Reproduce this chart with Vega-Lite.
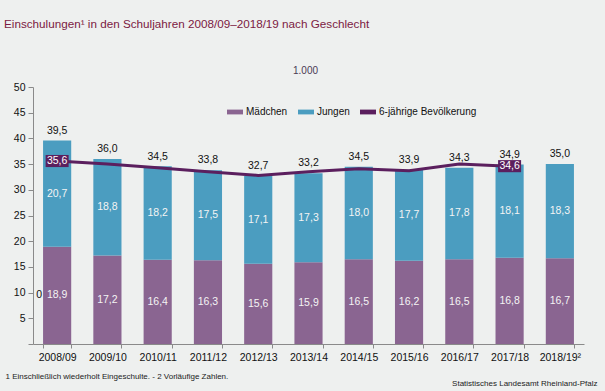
{
  "$schema": "https://vega.github.io/schema/vega-lite/v6.json",
  "width": 551,
  "height": 257,
  "autosize": {"type": "none"},
  "padding": {"left": 33, "top": 87, "right": 21, "bottom": 47},
  "background": "#eef0ef",
  "title": {
    "text": "Einschulungen¹ in den Schuljahren 2008/09–2018/19 nach Geschlecht",
    "anchor": "start",
    "frame": "group",
    "dx": -29,
    "offset": 34,
    "font": "Liberation Sans",
    "fontSize": 11.7,
    "fontWeight": "normal",
    "color": "#7c1a42"
  },
  "datasets": {
    "sex": [
      {"year": "2008/09", "sex": "Mädchen", "value": 18.9},
      {"year": "2008/09", "sex": "Jungen", "value": 20.7},
      {"year": "2009/10", "sex": "Mädchen", "value": 17.2},
      {"year": "2009/10", "sex": "Jungen", "value": 18.8},
      {"year": "2010/11", "sex": "Mädchen", "value": 16.4},
      {"year": "2010/11", "sex": "Jungen", "value": 18.2},
      {"year": "2011/12", "sex": "Mädchen", "value": 16.3},
      {"year": "2011/12", "sex": "Jungen", "value": 17.5},
      {"year": "2012/13", "sex": "Mädchen", "value": 15.6},
      {"year": "2012/13", "sex": "Jungen", "value": 17.1},
      {"year": "2013/14", "sex": "Mädchen", "value": 15.9},
      {"year": "2013/14", "sex": "Jungen", "value": 17.3},
      {"year": "2014/15", "sex": "Mädchen", "value": 16.5},
      {"year": "2014/15", "sex": "Jungen", "value": 18.0},
      {"year": "2015/16", "sex": "Mädchen", "value": 16.2},
      {"year": "2015/16", "sex": "Jungen", "value": 17.7},
      {"year": "2016/17", "sex": "Mädchen", "value": 16.5},
      {"year": "2016/17", "sex": "Jungen", "value": 17.8},
      {"year": "2017/18", "sex": "Mädchen", "value": 16.8},
      {"year": "2017/18", "sex": "Jungen", "value": 18.1},
      {"year": "2018/19²", "sex": "Mädchen", "value": 16.7},
      {"year": "2018/19²", "sex": "Jungen", "value": 18.3}
    ],
    "tot": [
      {"year": "2008/09", "total": 39.5},
      {"year": "2009/10", "total": 36.0},
      {"year": "2010/11", "total": 34.5},
      {"year": "2011/12", "total": 33.8},
      {"year": "2012/13", "total": 32.7},
      {"year": "2013/14", "total": 33.2},
      {"year": "2014/15", "total": 34.5},
      {"year": "2015/16", "total": 33.9},
      {"year": "2016/17", "total": 34.3},
      {"year": "2017/18", "total": 34.9},
      {"year": "2018/19²", "total": 35.0}
    ],
    "pop": [
      {"year": "2008/09", "pop": 35.6, "show": true},
      {"year": "2009/10", "pop": 35.0, "show": false},
      {"year": "2010/11", "pop": 34.3, "show": false},
      {"year": "2011/12", "pop": 33.5, "show": false},
      {"year": "2012/13", "pop": 32.8, "show": false},
      {"year": "2013/14", "pop": 33.5, "show": false},
      {"year": "2014/15", "pop": 34.1, "show": false},
      {"year": "2015/16", "pop": 33.7, "show": false},
      {"year": "2016/17", "pop": 35.0, "show": false},
      {"year": "2017/18", "pop": 34.6, "show": true}
    ]
  },
  "layer": [
    {
      "data": {"name": "sex"},
      "encoding": {
        "x": {
          "field": "year",
          "type": "nominal",
          "sort": null,
          "scale": {
            "domain": ["2008/09", "2009/10", "2010/11", "2011/12", "2012/13", "2013/14", "2014/15", "2015/16", "2016/17", "2017/18", "2018/19²"],
            "paddingInner": 0.44,
            "paddingOuter": 0.2
          },
          "axis": {
            "orient": "bottom",
            "labelAngle": 0,
            "tickBand": "extent",
            "tickSize": 4,
            "labelPadding": 4,
            "labelFontSize": 10.5,
            "labelColor": "#111111",
            "domainColor": "#8a8a8a",
            "tickColor": "#8a8a8a",
            "title": "1 Einschließlich wiederholt Eingeschulte. - 2 Vorläufige Zahlen.",
            "titleAnchor": "start",
            "titleAlign": "left",
            "titleBaseline": "middle",
            "titleX": -28,
            "titleY": 32,
            "titleFontSize": 8,
            "titleFontWeight": "normal",
            "titleColor": "#222222"
          }
        }
      },
      "layer": [
        {
          "mark": {"type": "bar"},
          "encoding": {
            "y": {
              "field": "value",
              "type": "quantitative",
              "stack": "zero",
              "title": "1.000",
              "scale": {"domain": [0, 50], "nice": false}
            },
            "color": {
              "field": "sex",
              "type": "nominal",
              "scale": {
                "domain": ["Mädchen", "Jungen", "6-jährige Bevölkerung"],
                "range": ["#8a6591", "#4b9dc0", "#5b1f5e"]
              },
              "legend": {
                "title": null,
                "orient": "none",
                "legendX": 194,
                "legendY": 17,
                "direction": "horizontal",
                "symbolType": "M-1,-0.3H1V0.3H-1Z",
                "symbolSize": 256,
                "symbolStrokeWidth": 0,
                "labelFontSize": 10,
                "labelColor": "#111111",
                "labelOffset": 3,
                "columnPadding": 10
              }
            },
            "order": {"field": "sex", "sort": "descending"}
          }
        },
        {
          "transform": [
            {"stack": "value", "groupby": ["year"], "sort": [{"field": "sex", "order": "descending"}], "as": ["v0", "v1"]},
            {"calculate": "(datum.v0 + datum.v1) / 2", "as": "mid"}
          ],
          "mark": {"type": "text", "color": "#f4f4f4", "fontSize": 10.5, "baseline": "middle"},
          "encoding": {
            "y": {"field": "mid", "type": "quantitative", "stack": null, "title": "1.000"},
            "text": {"field": "value", "type": "quantitative", "format": ".1f"}
          }
        },
        {
          "transform": [{"filter": "datum.year == '2008/09' && datum.sex == 'Mädchen'"}],
          "mark": {"type": "text", "color": "#111111", "fontSize": 10.5, "baseline": "middle", "dx": -18},
          "encoding": {
            "y": {"datum": 9.45, "type": "quantitative", "title": "1.000"},
            "text": {"value": "0"}
          }
        },
        {
          "data": {"name": "tot"},
          "mark": {"type": "text", "color": "#111111", "fontSize": 10.5, "baseline": "middle", "dy": -10},
          "encoding": {
            "y": {"field": "total", "type": "quantitative", "stack": null, "title": "1.000"},
            "text": {"field": "total", "type": "quantitative", "format": ".1f"}
          }
        }
      ]
    },
    {
      "data": {"name": "pop"},
      "encoding": {
        "x": {
          "field": "year",
          "type": "nominal",
          "sort": null,
          "scale": {
            "domain": ["2008/09", "2009/10", "2010/11", "2011/12", "2012/13", "2013/14", "2014/15", "2015/16", "2016/17", "2017/18", "2018/19²"],
            "paddingInner": 0.44,
            "paddingOuter": 0.2
          },
          "axis": {
            "orient": "top",
            "labels": false,
            "ticks": false,
            "domain": false,
            "grid": false,
            "title": "Statistisches Landesamt Rheinland-Pfalz",
            "titleAnchor": "end",
            "titleAlign": "right",
            "titleBaseline": "middle",
            "titleX": 564,
            "titleY": 296,
            "titleFontSize": 8,
            "titleFontWeight": "normal",
            "titleColor": "#222222"
          }
        },
        "y": {"field": "pop", "type": "quantitative", "stack": null, "title": "1.000"}
      },
      "layer": [
        {
          "mark": {"type": "line", "strokeWidth": 3},
          "encoding": {
            "color": {"datum": "6-jährige Bevölkerung", "type": "nominal"}
          }
        },
        {
          "transform": [{"filter": "datum.show"}],
          "mark": {"type": "point", "shape": "M-0.95,-0.5H0.95V0.5H-0.95Z", "filled": true, "size": 586, "opacity": 1, "color": "#5b1f5e"},
          "encoding": {}
        },
        {
          "transform": [{"filter": "datum.show"}],
          "mark": {"type": "text", "color": "#ffffff", "fontSize": 10.5, "baseline": "middle"},
          "encoding": {
            "text": {"field": "pop", "type": "quantitative", "format": ".1f"}
          }
        }
      ]
    }
  ],
  "resolve": {"axis": {"x": "independent"}},
  "config": {
    "font": "Liberation Sans",
    "view": {"stroke": null},
    "axisY": {
      "tickCount": 10,
      "labelExpr": "datum.value == 0 ? '' : datum.label",
      "grid": false,
      "tickSize": 5,
      "labelPadding": 3,
      "labelFontSize": 10.5,
      "labelColor": "#111111",
      "domainColor": "#8a8a8a",
      "tickColor": "#8a8a8a",
      "titleAngle": 0,
      "titleAlign": "center",
      "titleBaseline": "middle",
      "titleX": 272,
      "titleY": -17,
      "titleFontSize": 10,
      "titleFontWeight": "normal",
      "titleColor": "#4a3a55"
    },
    "locale": {
      "number": {"decimal": ",", "thousands": ".", "grouping": [3], "currency": ["", " €"]}
    }
  }
}
